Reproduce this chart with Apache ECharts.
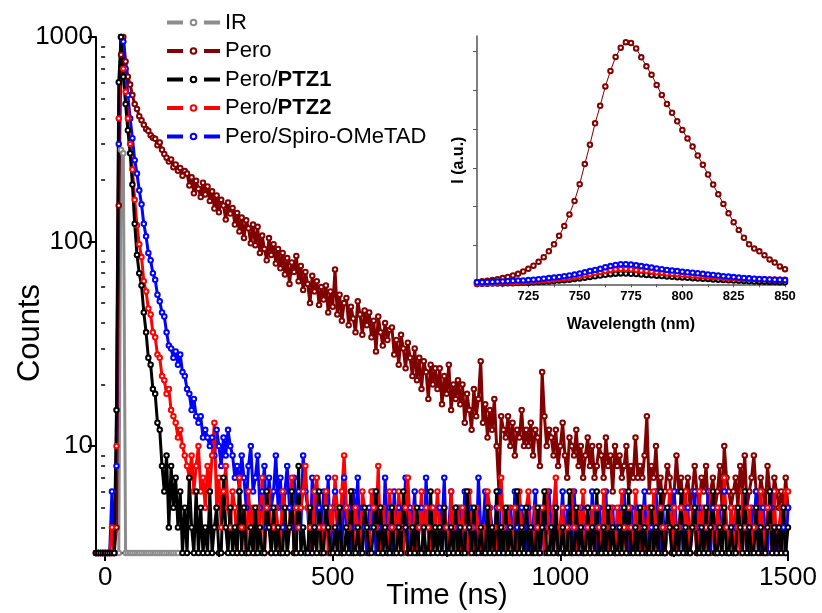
<!DOCTYPE html>
<html><head><meta charset="utf-8">
<script src="https://cdn.jsdelivr.net/npm/echarts@6/dist/echarts.min.js"></script>
<style>html,body{margin:0;padding:0;background:#fff}#c{width:822px;height:613px}</style>
</head><body><div id="c"></div>
<script>
// ---------- DATA ----------
const legendNames = ['IR', 'Pero', 'Pero/PTZ1', 'Pero/PTZ2', 'Pero/Spiro-OMeTAD'];
// time grid of the decay traces (ns)
const tStart = -20, tStep = 5;
const irCounts = [3,3,3,3,3,3,3,3,3,3,3,281,270,3,3,3,3,3,3,3,3,3,3,3,3,3,3,3,3,3,3,3,3,3,3,3,3];
const peroCounts = [
 3,3,3,3,3,3,3,3,3,4,
 150,820,1000,760,640,585,520,470,445,410,
 392,372,355,348,331,322,318,296,305,281,
 268,257,246,252,231,238,222,229,210,221,
 215,188,206,172,198,181,165,194,170,186,
 158,176,145,168,139,160,150,128,155,137,
 146,121,138,112,131,104,127,116,98,121,
 96,118,88,107,92,81,104,86,97,78,
 92,74,88,69,83,62,79,71,85,64,
 76,58,71,62,50,68,57,64,49,60,
 52,61,45,57,48,73,44,55,41,50,
 53,39,48,42,36,51,44,35,46,39,
 45,34,41,29,43,36,31,40,33,37,
 38,28,33,25,35,30,24,32,27,22,
 30,21,27,19,26,23,17,25,20,24,
 19,24,16,22,18,25,15,20,17,21,
 16,20,13,18,15,12,19,14,17,26,
 13,16,11,15,12,17,10,6,14,12,
 11,14,10,13,9,12,11,15,10,12,
 10,13,9,12,11,8,23,14,10,12,
 11,9,12,8,10,13,9,7,11,10,
 9,12,8,10,7,9,11,8,10,7,
 8,10,9,7,11,8,9,6,10,8,
 9,7,8,10,6,8,7,11,7,8,
 7,9,14,6,8,7,10,6,7,5,
 6,8,7,5,6,9,6,7,5,6,
 7,5,6,8,6,5,7,6,8,5,
 6,7,5,6,8,5,10,7,6,5,
 6,7,5,8,6,9,5,6,7,9,
 6,5,7,6,5,8,6,5,7,6,
 5,6,5,7,5];
const ptz1Counts = [
 3,3,3,3,3,3,3,3,3,15,
 600,1000,640,470,350,270,190,122,86,70,
 61,45,36,27,25,19,18,13,12,8,
 6,9,4,8,5,7,4,6,3,5,
 3,7,4,3,6,3,5,3,4,3,
 6,3,4,5,3,3,7,4,3,5,
 3,4,3,6,3,5,3,3,4,3,
 5,3,4,3,3,6,4,3,5,3,
 4,3,3,5,3,4,6,3,3,8,
 3,4,3,3,5,3,4,3,6,3,
 3,5,4,3,3,4,3,5,3,3,
 4,3,6,3,3,4,3,3,5,4,
 3,3,4,6,3,5,3,4,3,3,
 5,3,3,4,3,6,4,3,3,4,
 3,5,3,3,4,3,3,6,3,4,
 3,4,3,5,3,3,4,3,5,3,
 4,3,3,6,4,3,5,3,3,4,
 3,3,5,3,4,3,6,3,4,3,
 5,3,4,3,3,6,3,4,3,5,
 3,4,3,3,5,3,4,6,3,3,
 4,3,5,3,3,4,3,3,6,3,
 3,5,3,4,3,3,5,3,4,3,
 6,3,3,4,3,5,3,4,3,3,
 4,3,5,3,6,3,3,4,3,5,
 3,4,3,3,5,3,4,3,6,3,
 3,5,4,3,3,4,3,6,3,4,
 3,3,4,5,3,3,4,3,5,3,
 4,6,3,3,4,3,5,3,3,4,
 3,3,5,4,3,6,3,4,3,3,
 5,3,4,3,3,4,6,3,4,3,
 4,3,5,3,4];
const ptz2Counts = [
 3,3,3,3,3,3,3,4,3,10,
 400,1000,700,540,400,300,225,160,120,97,
 84,64,57,47,44,36,34,28,27,22,
 21,18,19,15,14,13,11,12,10,9,
 8,7,9,6,8,10,6,7,5,8,
 6,9,13,5,7,4,6,8,5,4,
 6,5,3,7,4,5,3,6,4,5,
 3,5,4,7,3,5,6,3,4,5,
 4,3,6,5,3,4,7,3,5,4,
 5,6,8,5,4,3,6,7,4,3,
 4,6,3,5,4,7,5,3,6,9,
 5,4,6,3,5,4,3,6,5,4,
 3,6,5,4,8,3,5,4,3,6,
 4,5,3,6,4,3,5,7,4,3,
 5,3,4,6,3,5,4,3,5,4,
 6,4,3,5,4,3,6,4,3,5,
 3,5,4,3,6,4,3,5,4,3,
 4,3,6,5,3,4,3,5,7,4,
 3,5,4,3,5,3,6,4,3,5,
 6,4,3,5,4,3,5,3,6,4,
 3,5,7,3,4,5,3,4,3,6,
 4,3,5,4,6,3,4,3,5,3,
 5,4,3,6,4,3,5,4,3,5,
 3,6,4,3,5,4,3,6,4,3,
 5,3,4,5,3,6,4,3,5,4,
 3,4,6,3,5,3,4,5,3,6,
 4,3,5,4,3,6,3,5,4,3,
 6,4,3,5,4,3,7,4,3,5,
 3,5,4,3,6,4,3,5,3,4,
 5,3,6,4,3,5,4,3,6,3,
 4,5,3,6,6];
const spiroCounts = [
 3,3,3,3,3,3,3,6,3,8,
 300,1000,950,700,520,400,320,250,215,178,
 152,122,106,88,81,70,65,55,51,45,
 43,36,31,30,27,29,25,28,23,22,
 19,18,15,17,14,13,14,11,12,11,
 10,11,9,12,10,8,11,9,12,10,
 9,7,8,6,9,7,5,8,10,6,
 7,9,5,6,8,4,7,5,6,9,
 5,7,4,6,8,5,4,7,5,6,
 4,9,6,5,3,7,4,6,5,4,
 6,4,7,3,5,6,4,5,3,7,
 4,5,3,6,4,7,3,5,4,3,
 5,4,6,3,4,5,3,7,4,5,
 3,6,4,5,3,4,7,3,5,4,
 6,3,4,5,3,7,4,3,5,4,
 3,5,4,7,3,4,6,3,5,4,
 5,3,6,4,3,5,4,3,7,4,
 4,6,3,5,4,3,5,6,3,4,
 3,4,5,3,6,4,3,5,4,3,
 5,3,4,6,3,5,4,3,4,6,
 4,3,5,3,4,6,3,5,4,3,
 6,4,3,5,3,4,5,3,6,4,
 3,5,4,3,6,3,4,5,3,4,
 5,3,6,4,3,5,4,3,5,3,
 4,6,3,5,4,3,6,4,3,5,
 3,4,5,3,6,4,3,5,4,3,
 5,3,4,6,3,4,5,3,4,6,
 3,5,4,3,5,3,6,4,3,5,
 4,3,5,4,3,6,4,3,5,4,
 6,4,3,5,4,3,5,6,3,4,
 3,5,4,3,5];
const xTickValues = [0, 500, 1000, 1500];
const xMinorTickValues = [250, 750, 1250];
const yTickValues = [10, 100, 1000];
const yMinorTickValues = [4,5,6,7,8,9,20,30,40,50,60,70,80,90,200,300,400,500,600,700,800,900];

// inset: PL spectra, wavelength grid (nm)
const plStart = 700, plStep = 2.5;
const plPero = [0.06,0.08,0.09,0.11,0.13,0.16,0.19,0.23,0.27,0.33,
 0.40,0.48,0.58,0.70,0.85,1.03,1.25,1.50,1.80,2.15,
 2.58,3.10,3.60,4.15,4.60,5.10,5.50,5.86,6.10,6.24,
 6.22,6.08,5.85,5.62,5.40,5.14,4.88,4.65,4.42,4.20,
 3.98,3.76,3.55,3.32,3.08,2.83,2.57,2.32,2.07,1.83,
 1.60,1.40,1.20,1.03,0.92,0.85,0.75,0.64,0.56,0.46,
 0.39];
const plPTZ1 = [0.01,0.012,0.015,0.018,0.02,0.023,0.026,0.03,0.034,0.038,
 0.043,0.05,0.057,0.065,0.074,0.084,0.095,0.107,0.12,0.135,
 0.15,0.168,0.187,0.205,0.225,0.245,0.262,0.275,0.28,0.278,
 0.272,0.263,0.252,0.242,0.232,0.222,0.212,0.202,0.193,0.184,
 0.176,0.167,0.159,0.15,0.142,0.134,0.126,0.118,0.11,0.103,
 0.096,0.089,0.083,0.077,0.072,0.067,0.063,0.06,0.057,0.055,
 0.053];
const plPTZ2 = [0.02,0.025,0.03,0.035,0.04,0.045,0.05,0.055,0.06,0.065,
 0.07,0.08,0.09,0.10,0.11,0.125,0.14,0.155,0.17,0.19,
 0.21,0.235,0.26,0.29,0.32,0.345,0.37,0.385,0.395,0.395,
 0.385,0.37,0.355,0.34,0.325,0.31,0.295,0.28,0.27,0.26,
 0.25,0.24,0.23,0.22,0.21,0.20,0.19,0.18,0.17,0.165,
 0.16,0.15,0.145,0.14,0.135,0.13,0.13,0.125,0.125,0.12,
 0.12];
const plSpiro = [0.05,0.055,0.06,0.065,0.07,0.075,0.08,0.09,0.095,0.10,
 0.11,0.12,0.13,0.145,0.16,0.175,0.19,0.21,0.23,0.25,
 0.28,0.31,0.34,0.37,0.40,0.44,0.47,0.50,0.52,0.52,
 0.51,0.49,0.47,0.45,0.43,0.41,0.39,0.37,0.355,0.34,
 0.325,0.31,0.30,0.285,0.27,0.255,0.24,0.225,0.21,0.20,
 0.185,0.175,0.165,0.155,0.145,0.135,0.13,0.125,0.12,0.115,
 0.11];
const plTickValues = [725, 750, 775, 800, 825, 850];
const plYTickValues = [1, 2, 3, 4, 5, 6];

// ---------- CHART ----------
const FONT = 'Arial, "Liberation Sans", sans-serif';
const colors = { 'IR': '#8c8c8c', 'Pero': '#800000', 'Pero/PTZ1': '#000000', 'Pero/PTZ2': '#ff0000', 'Pero/Spiro-OMeTAD': '#0000ff' };
const toTimePairs = arr => arr.map((v, i) => [tStart + i * tStep, v]);
const toPlPairs = arr => arr.map((v, i) => [plStart + i * plStep, v]);
const plain = v => String(v);

function decaySeries(name, arr) {
  return {
    name, type: 'line', xAxisIndex: 0, yAxisIndex: 0, data: toTimePairs(arr),
    symbol: 'emptyCircle', symbolSize: 4.5, clip: true,
    lineStyle: { width: 3, color: colors[name] },
    itemStyle: { color: colors[name], borderWidth: 1 },
    emphasis: { disabled: true }
  };
}
function plSeries(name, arr) {
  return {
    name: 'PL ' + name, type: 'line', xAxisIndex: 2, yAxisIndex: 2, data: toPlPairs(arr),
    symbol: 'emptyCircle', symbolSize: 4.5, clip: false,
    lineStyle: { width: 1, color: colors[name] },
    itemStyle: { color: colors[name], borderWidth: 1 },
    emphasis: { disabled: true }
  };
}

const chart = echarts.init(document.getElementById('c'), null, { renderer: 'canvas' });
chart.setOption({
  animation: false,
  backgroundColor: '#fff',
  textStyle: { fontFamily: FONT },
  legend: {
    data: legendNames, orient: 'vertical', left: 160, top: 6.5,
    itemWidth: 53, itemHeight: 7, itemGap: 6.5,
    selectedMode: false,
    lineStyle: { width: 4, type: [16, 21] },
    textStyle: { fontSize: 22, color: '#000', fontFamily: FONT,
      rich: { b: { fontSize: 22, fontWeight: 'bold', color: '#000', fontFamily: FONT } } },
    formatter: n => n.replace(/PTZ(\d)/, '{b|PTZ$1}')
  },
  grid: [
    { left: 96, top: 37, width: 692, height: 516, containLabel: false, outerBoundsMode: 'none' },
    { left: 477, top: 36, width: 308, height: 248.3, containLabel: false, outerBoundsMode: 'none' }
  ],
  xAxis: [
    { type: 'value', gridIndex: 0, min: -20, max: 1500, position: 'bottom',
      name: 'Time (ns)', nameLocation: 'middle', nameGap: 28, nameMoveOverlap: false,
      nameTextStyle: { fontSize: 29, color: '#000', fontFamily: FONT, padding: [0, 0, 0, 10] },
      axisLine: { show: true, onZero: false, lineStyle: { color: '#000', width: 2 } },
      axisTick: { show: true, inside: false, length: 8, customValues: xTickValues, lineStyle: { color: '#000', width: 2 } },
      axisLabel: { customValues: xTickValues, formatter: plain, fontSize: 26, color: '#000', margin: 12, fontFamily: FONT },
      splitLine: { show: false } },
    { type: 'value', gridIndex: 0, min: -20, max: 1500, position: 'bottom',
      axisLine: { show: false }, axisLabel: { show: false }, splitLine: { show: false },
      axisTick: { show: true, inside: false, length: 4, customValues: xMinorTickValues, lineStyle: { color: '#000', width: 2 } } },
    { type: 'value', gridIndex: 1, min: 700, max: 850, interval: 25, position: 'bottom',
      name: 'Wavelength (nm)', nameLocation: 'middle', nameGap: 32, nameMoveOverlap: false,
      nameTextStyle: { fontSize: 16, fontWeight: 'bold', color: '#000', fontFamily: FONT },
      axisLine: { show: true, onZero: false, lineStyle: { color: '#555', width: 1.5 } },
      axisTick: { show: true, inside: false, length: 3, lineStyle: { color: '#555' } },
      minorTick: { show: true, splitNumber: 2, length: 3, lineStyle: { color: '#555' } },
      axisLabel: { customValues: plTickValues, formatter: plain, fontSize: 13, fontWeight: 'bold', color: '#000', margin: 6, fontFamily: FONT },
      splitLine: { show: false }, minorSplitLine: { show: false } }
  ],
  yAxis: [
    { type: 'log', gridIndex: 0, min: 3, max: 1000, position: 'left',
      name: 'Counts', nameLocation: 'middle', nameGap: 50, nameMoveOverlap: false,
      nameTextStyle: { fontSize: 31, color: '#000', fontFamily: FONT, padding: [0, 76, 0, 0] },
      axisLine: { show: true, onZero: false, lineStyle: { color: '#000', width: 2 } },
      axisTick: { show: true, inside: false, length: 8, customValues: yTickValues, lineStyle: { color: '#000', width: 2 } },
      axisLabel: { customValues: yTickValues, formatter: plain, fontSize: 26, color: '#000', margin: 3, fontFamily: FONT },
      splitLine: { show: false } },
    { type: 'log', gridIndex: 0, min: 3, max: 1000, position: 'left',
      axisLine: { show: false }, axisLabel: { show: false }, splitLine: { show: false },
      axisTick: { show: true, inside: false, length: 4, customValues: yMinorTickValues, lineStyle: { color: '#000', width: 1.5 } } },
    { type: 'value', gridIndex: 1, min: 0, max: 6.4, position: 'left',
      name: 'I (a.u.)', nameLocation: 'middle', nameGap: 10, nameMoveOverlap: false,
      nameTextStyle: { fontSize: 16, fontWeight: 'bold', color: '#000', fontFamily: FONT },
      axisLine: { show: true, onZero: false, lineStyle: { color: '#555', width: 1.5 } },
      axisTick: { show: true, inside: false, length: 4, customValues: plYTickValues, lineStyle: { color: '#555' } },
      axisLabel: { show: false },
      splitLine: { show: false } }
  ],
  series: [
    decaySeries('IR', irCounts),
    decaySeries('Pero', peroCounts),
    decaySeries('Pero/Spiro-OMeTAD', spiroCounts),
    decaySeries('Pero/PTZ2', ptz2Counts),
    decaySeries('Pero/PTZ1', ptz1Counts),
    plSeries('Pero', plPero),
    plSeries('Pero/PTZ1', plPTZ1),
    plSeries('Pero/PTZ2', plPTZ2),
    plSeries('Pero/Spiro-OMeTAD', plSpiro)
  ]
});
</script>
</body></html>
